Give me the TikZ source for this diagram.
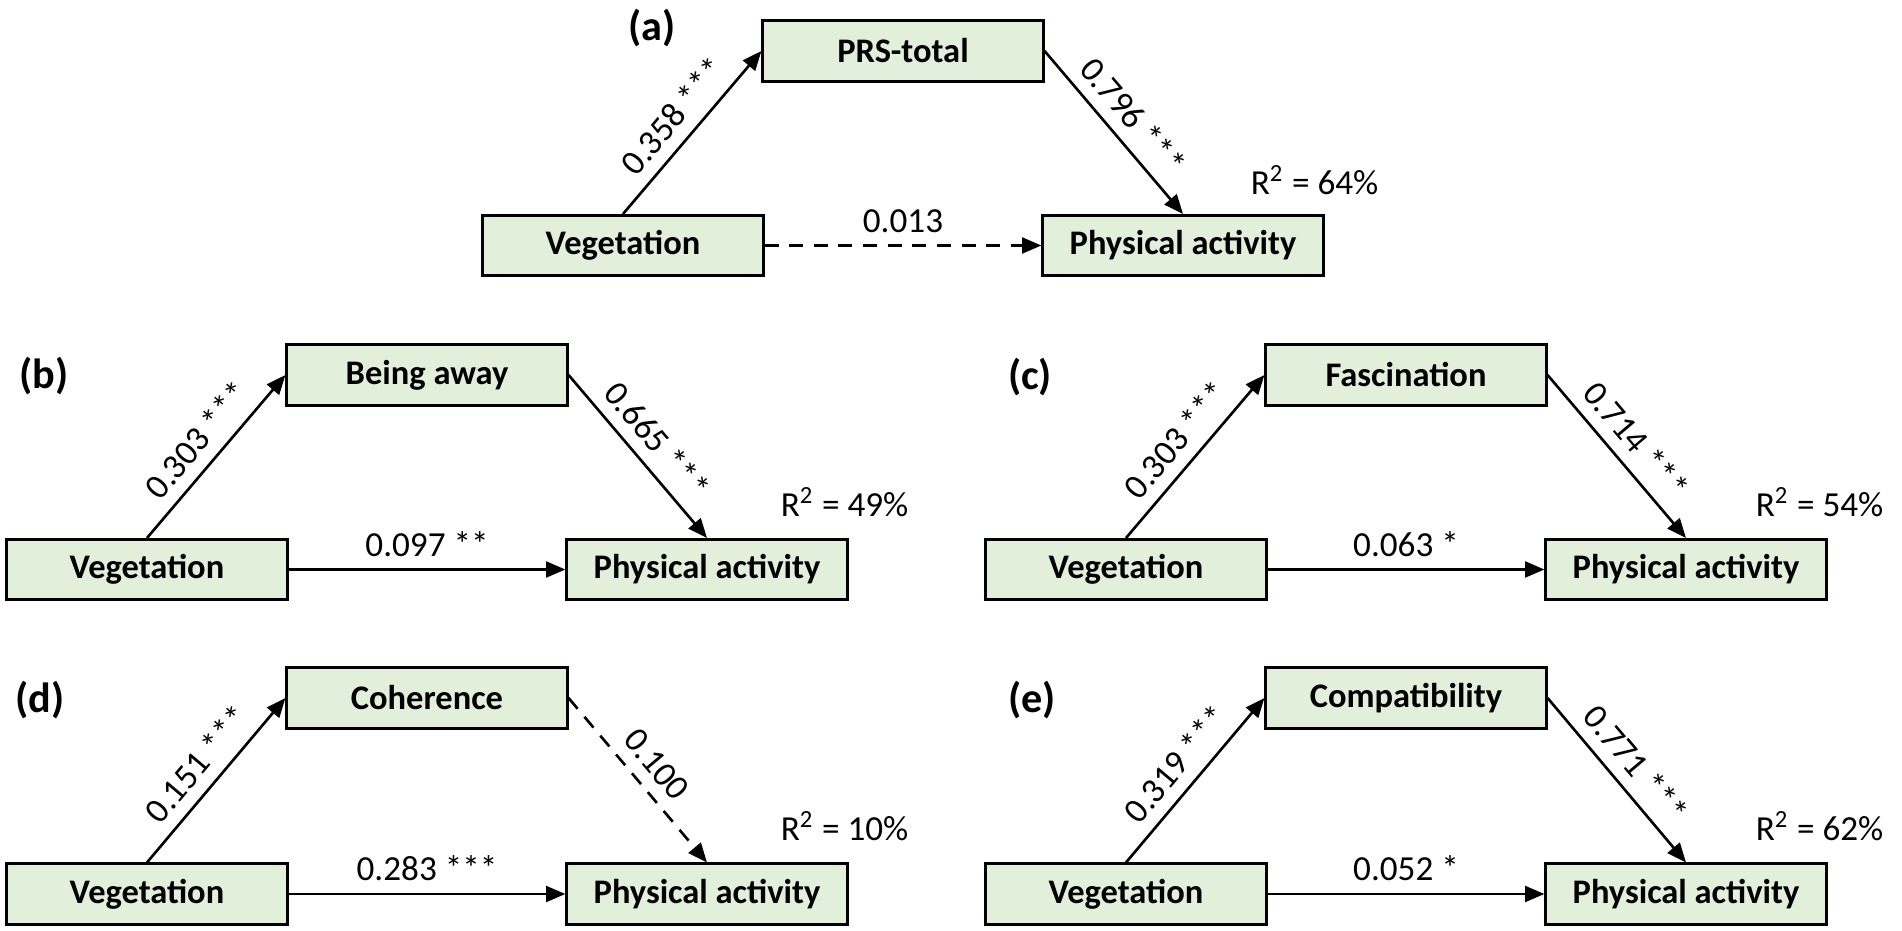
\documentclass[tikz,border=0pt]{standalone}
\usepackage{fontspec}
\setmainfont{Carlito}
\usetikzlibrary{arrows.meta,calc}
\definecolor{boxgreen}{HTML}{E2EFDA}
\tikzset{
  box/.style={draw=black, line width=0.85pt, fill=boxgreen, minimum width=2.8cm, minimum height=0.6cm, inner sep=0pt, font=\bfseries\fontsize{9.8}{12}\selectfont},
  num/.style={font=\fontsize{10}{12}\selectfont},
  arr/.style={line width=0.75pt, -{Triangle[length=5.5pt,width=4.5pt]}},
  dash7/.style={dash pattern=on 4pt off 3pt},
  plabel/.style={font=\bfseries\fontsize{12}{14}\selectfont},
  rsq/.style={font=\fontsize{10}{12}\selectfont}
}
\begin{document}
\begin{tikzpicture}[x=0.01cm,y=-0.01cm]
\path[use as bounding box] (0,0) rectangle (1902,931);
% (a)
\node[plabel] (la) at (652,28) {(a)};
\node[box] (va) at (623,245.5) {Vegetation};
\node[box] (ta) at (903,51) {PRS-total};
\node[box] (pa) at (1183,245.5) {Physical activity};
\draw[arr] (va.north) -- (ta.west) node[midway, above, sloped, num] {0.358 ***};
\draw[arr] (ta.east) -- (pa.north) node[midway, above, sloped, num] {0.796 ***};
\draw[arr, dash7] (va.east) -- (pa.west) node[midway, above, num] {0.013};
\node[rsq] (ra) at ($(pa.north east)+(-10,-34)$) {R\textsuperscript{2} = 64\%};
% (b)
\node[plabel] (lb) at (44,376) {(b)};
\node[box] (vb) at (147,569.5) {Vegetation};
\node[box] (tb) at (427,375) {Being away};
\node[box] (pb) at (707,569.5) {Physical activity};
\draw[arr] (vb.north) -- (tb.west) node[midway, above, sloped, num] {0.303 ***};
\draw[arr] (tb.east) -- (pb.north) node[midway, above, sloped, num] {0.665 ***};
\draw[arr] (vb.east) -- (pb.west) node[midway, above, num] {0.097 **};
\node[rsq] (rb) at ($(pb.north east)+(-4,-36)$) {R\textsuperscript{2} = 49\%};
% (c)
\node[plabel] (lc) at (1030,377) {(c)};
\node[box] (vc) at (1126,569.5) {Vegetation};
\node[box] (tc) at (1406,375) {Fascination};
\node[box] (pc) at (1686,569.5) {Physical activity};
\draw[arr] (vc.north) -- (tc.west) node[midway, above, sloped, num] {0.303 ***};
\draw[arr] (tc.east) -- (pc.north) node[midway, above, sloped, num] {0.714 ***};
\draw[arr] (vc.east) -- (pc.west) node[midway, above, num] {0.063 *};
\node[rsq] (rc) at ($(pc.north east)+(-8,-36)$) {R\textsuperscript{2} = 54\%};
% (d)
\node[plabel] (ld) at (40,700) {(d)};
\node[box] (vd) at (147,894) {Vegetation};
\node[box] (td) at (427,698) {Coherence};
\node[box] (pd) at (707,894) {Physical activity};
\draw[arr] (vd.north) -- (td.west) node[midway, above, sloped, num] {0.151 ***};
\draw[arr, dash7] (td.east) -- (pd.north) node[midway, above, sloped, num] {0.100};
\draw[arr] (vd.east) -- (pd.west) node[midway, above, num] {0.283 ***};
\node[rsq] (rd) at ($(pd.north east)+(-4,-36)$) {R\textsuperscript{2} = 10\%};
% (e)
\node[plabel] (le) at (1032,700) {(e)};
\node[box] (ve) at (1126,894) {Vegetation};
\node[box] (te) at (1406,698) {Compatibility};
\node[box] (pe) at (1686,894) {Physical activity};
\draw[arr] (ve.north) -- (te.west) node[midway, above, sloped, num] {0.319 ***};
\draw[arr] (te.east) -- (pe.north) node[midway, above, sloped, num] {0.771 ***};
\draw[arr] (ve.east) -- (pe.west) node[midway, above, num] {0.052 *};
\node[rsq] (re) at ($(pe.north east)+(-8,-36)$) {R\textsuperscript{2} = 62\%};
\end{tikzpicture}
\end{document}
